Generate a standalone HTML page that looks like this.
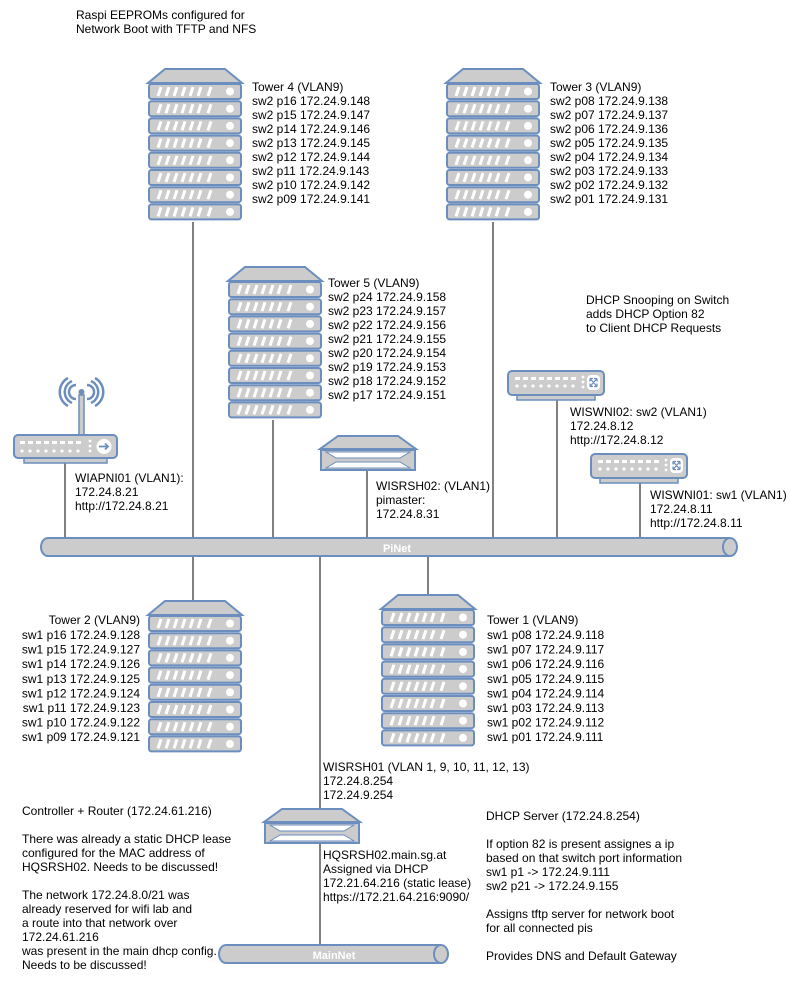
<!DOCTYPE html>
<html><head><meta charset="utf-8"><style>
html,body{margin:0;padding:0;background:#fff}
svg text{font-family:"Liberation Sans",Arial,sans-serif;font-size:12px;fill:#000}
</style></head><body>
<svg width="795" height="991" viewBox="0 0 795 991" xmlns="http://www.w3.org/2000/svg">
<defs>
<g id="unit">
<rect x="1" y="0" width="92" height="15" rx="2.5" fill="#cccccc" stroke="#6c8ebf" stroke-width="2"/>
<g stroke="#fff" stroke-width="3">
<line x1="10" y1="12" x2="13" y2="3"/><line x1="18" y1="12" x2="21" y2="3"/><line x1="26" y1="12" x2="29" y2="3"/><line x1="34" y1="12" x2="37" y2="3"/><line x1="42" y1="12" x2="45" y2="3"/><line x1="50" y1="12" x2="53" y2="3"/><line x1="60" y1="12" x2="63" y2="3"/>
</g>
<circle cx="82" cy="7.5" r="4" fill="#fff"/>
</g>
<g id="tower">
<path d="M17,1 L77,1 L94,15 L0,15 Z" fill="#cccccc" stroke="#6c8ebf" stroke-width="2"/>
<use href="#unit" y="16"/><use href="#unit" y="33.2"/><use href="#unit" y="50.4"/><use href="#unit" y="67.6"/>
<use href="#unit" y="84.8"/><use href="#unit" y="102"/><use href="#unit" y="119.2"/><use href="#unit" y="136.4"/>
</g>
<g id="switch">
<rect x="10" y="25" width="78" height="5" fill="#cccccc" stroke="#6c8ebf" stroke-width="1.5"/>
<rect x="1" y="1" width="96" height="24" rx="4" fill="#cccccc" stroke="#6c8ebf" stroke-width="2"/>
<g fill="#fff">
<rect x="8" y="7" width="5" height="3"/><rect x="16" y="7" width="5" height="3"/><rect x="24" y="7" width="5" height="3"/><rect x="32" y="7" width="5" height="3"/><rect x="40" y="7" width="5" height="3"/><rect x="48" y="7" width="5" height="3"/><rect x="56" y="7" width="5" height="3"/><rect x="64" y="7" width="5" height="3"/>
<circle cx="10" cy="16" r="1.6"/><circle cx="18" cy="16" r="1.6"/><circle cx="26" cy="16" r="1.6"/><circle cx="34" cy="16" r="1.6"/><circle cx="42" cy="16" r="1.6"/><circle cx="50" cy="16" r="1.6"/><circle cx="58" cy="16" r="1.6"/><circle cx="66" cy="16" r="1.6"/>
<circle cx="76" cy="7" r="1.4"/><circle cx="76" cy="12" r="1.4"/><circle cx="76" cy="17" r="1.4"/>
<rect x="80" y="5" width="13" height="15" rx="4"/>
</g>
<path d="M83,8.5 L90,16.5 M90,8.5 L83,16.5 M83,8.5 l0,3 M83,8.5 l3,0 M90,16.5 l0,-3 M90,16.5 l-3,0 M90,8.5 l-3,0 M90,8.5 l0,3 M83,16.5 l3,0 M83,16.5 l0,-3" stroke="#6c8ebf" stroke-width="1.2" fill="none"/>
</g>
<g id="server">
<path d="M18,1 L78,1 L96,14 L0,14 Z" fill="#cccccc" stroke="#6c8ebf" stroke-width="2"/>
<rect x="1" y="15" width="94" height="20" fill="#cccccc" stroke="#6c8ebf" stroke-width="2"/>
<path d="M6,17 L90,17 L80,23 L16,23 Z M16,27 L80,27 L90,33 L6,33 Z" fill="#fff" stroke="#6c8ebf" stroke-width="1"/>
</g>
</defs>

<g stroke="#000" stroke-width="1">
<line x1="193" y1="222" x2="193" y2="540"/>
<line x1="493" y1="222" x2="493" y2="540"/>
<line x1="273" y1="420" x2="273" y2="540"/>
<line x1="367" y1="470" x2="367" y2="540"/>
<line x1="65" y1="463" x2="65" y2="540"/>
<line x1="557" y1="400" x2="557" y2="540"/>
<line x1="640" y1="483" x2="640" y2="540"/>
<line x1="193" y1="555" x2="193" y2="600"/>
<line x1="428" y1="555" x2="428" y2="595"/>
<line x1="320" y1="555" x2="320" y2="808"/>
<line x1="320" y1="842" x2="320" y2="946"/>
</g>

<path d="M48,538 L730,538 A7,9 0 0 1 730,556 L48,556 A7,9 0 0 1 48,538 Z" fill="#cccccc" stroke="#6c8ebf" stroke-width="2"/>
<path d="M730,538 A7,9 0 0 0 730,556" fill="none" stroke="#6c8ebf" stroke-width="2"/>
<text x="397" y="552" text-anchor="middle" style="fill:#fff;font-size:11px;font-weight:bold">PiNet</text>
<path d="M226,945 L441,945 A7,9 0 0 1 441,963 L226,963 A7,9 0 0 1 226,945 Z" fill="#cccccc" stroke="#6c8ebf" stroke-width="2"/>
<path d="M441,945 A7,9 0 0 0 441,963" fill="none" stroke="#6c8ebf" stroke-width="2"/>
<text x="334" y="959" text-anchor="middle" style="fill:#fff;font-size:11px;font-weight:bold">MainNet</text>

<use href="#tower" x="148" y="68"/>
<use href="#tower" x="446" y="68"/>
<use href="#tower" x="228" y="266"/>
<use href="#tower" x="148" y="600"/>
<use href="#tower" x="381" y="594"/>

<use href="#switch" x="507" y="370"/>
<use href="#switch" x="590" y="453"/>
<use href="#server" x="320" y="435"/>
<use href="#server" x="264" y="808"/>

<g>
<rect x="79" y="395" width="5" height="42" fill="#cccccc" stroke="#6c8ebf" stroke-width="1.5"/>
<g fill="none" stroke="#6c8ebf" stroke-width="2.5">
<path d="M76,385 A7,7 0 0 0 76,399"/><path d="M87,385 A7,7 0 0 1 87,399"/>
<path d="M72,381 A12,12 0 0 0 72,403"/><path d="M91,381 A12,12 0 0 1 91,403"/>
<path d="M68,378 A16,16 0 0 0 68,406"/><path d="M95,378 A16,16 0 0 1 95,406"/>
</g>
<circle cx="81.5" cy="392" r="3" fill="#6c8ebf"/>
<rect x="24" y="458" width="83" height="5" fill="#cccccc" stroke="#6c8ebf" stroke-width="1.5"/>
<rect x="14" y="435" width="103" height="23" rx="4" fill="#cccccc" stroke="#6c8ebf" stroke-width="2"/>
<g fill="#fff">
<rect x="20" y="441" width="5" height="3"/><rect x="28" y="441" width="5" height="3"/><rect x="36" y="441" width="5" height="3"/><rect x="44" y="441" width="5" height="3"/><rect x="52" y="441" width="5" height="3"/><rect x="60" y="441" width="5" height="3"/><rect x="68" y="441" width="5" height="3"/><rect x="76" y="441" width="5" height="3"/>
<circle cx="22" cy="451" r="1.6"/><circle cx="30" cy="451" r="1.6"/><circle cx="38" cy="451" r="1.6"/><circle cx="46" cy="451" r="1.6"/><circle cx="54" cy="451" r="1.6"/><circle cx="62" cy="451" r="1.6"/><circle cx="70" cy="451" r="1.6"/><circle cx="78" cy="451" r="1.6"/>
<circle cx="90" cy="441" r="1.4"/><circle cx="90" cy="446" r="1.4"/><circle cx="90" cy="451" r="1.4"/>
<circle cx="104" cy="446.5" r="7.5"/>
</g>
<path d="M99,446.5 L108,446.5 M105,443.5 L108,446.5 L105,449.5" stroke="#6c8ebf" stroke-width="1.8" fill="none"/>
</g>

<text x="76" y="19">Raspi EEPROMs configured for</text>
<text x="76" y="33">Network Boot with TFTP and NFS</text>

<text x="252" y="91">Tower 4 (VLAN9)</text>
<text x="252" y="105">sw2 p16 172.24.9.148</text>
<text x="252" y="119">sw2 p15 172.24.9.147</text>
<text x="252" y="133">sw2 p14 172.24.9.146</text>
<text x="252" y="147">sw2 p13 172.24.9.145</text>
<text x="252" y="161">sw2 p12 172.24.9.144</text>
<text x="252" y="175">sw2 p11 172.24.9.143</text>
<text x="252" y="189">sw2 p10 172.24.9.142</text>
<text x="252" y="203">sw2 p09 172.24.9.141</text>

<text x="550" y="91">Tower 3 (VLAN9)</text>
<text x="550" y="105">sw2 p08 172.24.9.138</text>
<text x="550" y="119">sw2 p07 172.24.9.137</text>
<text x="550" y="133">sw2 p06 172.24.9.136</text>
<text x="550" y="147">sw2 p05 172.24.9.135</text>
<text x="550" y="161">sw2 p04 172.24.9.134</text>
<text x="550" y="175">sw2 p03 172.24.9.133</text>
<text x="550" y="189">sw2 p02 172.24.9.132</text>
<text x="550" y="203">sw2 p01 172.24.9.131</text>

<text x="328" y="287">Tower 5 (VLAN9)</text>
<text x="328" y="301">sw2 p24 172.24.9.158</text>
<text x="328" y="315">sw2 p23 172.24.9.157</text>
<text x="328" y="329">sw2 p22 172.24.9.156</text>
<text x="328" y="343">sw2 p21 172.24.9.155</text>
<text x="328" y="357">sw2 p20 172.24.9.154</text>
<text x="328" y="371">sw2 p19 172.24.9.153</text>
<text x="328" y="385">sw2 p18 172.24.9.152</text>
<text x="328" y="399">sw2 p17 172.24.9.151</text>

<text x="586" y="304">DHCP Snooping on Switch</text>
<text x="586" y="318">adds DHCP Option 82</text>
<text x="586" y="332">to Client DHCP Requests</text>

<text x="570" y="416">WISWNI02: sw2 (VLAN1)</text>
<text x="570" y="430">172.24.8.12</text>
<text x="570" y="444">http://172.24.8.12</text>

<text x="650" y="499">WISWNI01: sw1 (VLAN1)</text>
<text x="650" y="513">172.24.8.11</text>
<text x="650" y="527">http://172.24.8.11</text>

<text x="75" y="482">WIAPNI01 (VLAN1):</text>
<text x="75" y="496">172.24.8.21</text>
<text x="75" y="510">http://172.24.8.21</text>

<text x="376" y="490">WISRSH02: (VLAN1)</text>
<text x="376" y="504">pimaster:</text>
<text x="376" y="518">172.24.8.31</text>

<text x="140" y="624" text-anchor="end">Tower 2 (VLAN9)</text>
<text x="140" y="639" text-anchor="end">sw1 p16 172.24.9.128</text>
<text x="140" y="653.6" text-anchor="end">sw1 p15 172.24.9.127</text>
<text x="140" y="668.2" text-anchor="end">sw1 p14 172.24.9.126</text>
<text x="140" y="682.8" text-anchor="end">sw1 p13 172.24.9.125</text>
<text x="140" y="697.4" text-anchor="end">sw1 p12 172.24.9.124</text>
<text x="140" y="712" text-anchor="end">sw1 p11 172.24.9.123</text>
<text x="140" y="726.6" text-anchor="end">sw1 p10 172.24.9.122</text>
<text x="140" y="741" text-anchor="end">sw1 p09 172.24.9.121</text>

<text x="487" y="624">Tower 1 (VLAN9)</text>
<text x="487" y="639">sw1 p08 172.24.9.118</text>
<text x="487" y="653.6">sw1 p07 172.24.9.117</text>
<text x="487" y="668.2">sw1 p06 172.24.9.116</text>
<text x="487" y="682.8">sw1 p05 172.24.9.115</text>
<text x="487" y="697.4">sw1 p04 172.24.9.114</text>
<text x="487" y="712">sw1 p03 172.24.9.113</text>
<text x="487" y="726.6">sw1 p02 172.24.9.112</text>
<text x="487" y="741">sw1 p01 172.24.9.111</text>

<text x="323" y="771">WISRSH01 (VLAN 1, 9, 10, 11, 12, 13)</text>
<text x="323" y="785">172.24.8.254</text>
<text x="323" y="799">172.24.9.254</text>

<text x="323" y="859">HQSRSH02.main.sg.at</text>
<text x="323" y="873">Assigned via DHCP</text>
<text x="323" y="887">172.21.64.216 (static lease)</text>
<text x="323" y="901">https://172.21.64.216:9090/</text>

<text x="22" y="815">Controller + Router (172.24.61.216)</text>
<text x="22" y="843">There was already a static DHCP lease</text>
<text x="22" y="857">configured for the MAC address of</text>
<text x="22" y="871">HQSRSH02. Needs to be discussed!</text>
<text x="22" y="899">The network 172.24.8.0/21 was</text>
<text x="22" y="913">already reserved for wifi lab and</text>
<text x="22" y="927">a route into that network over</text>
<text x="22" y="941">172.24.61.216</text>
<text x="22" y="955">was present in the main dhcp config.</text>
<text x="22" y="969">Needs to be discussed!</text>

<text x="486" y="820">DHCP Server (172.24.8.254)</text>
<text x="486" y="848">If option 82 is present assignes a ip</text>
<text x="486" y="862">based on that switch port information</text>
<text x="486" y="876">sw1 p1 -&gt; 172.24.9.111</text>
<text x="486" y="890">sw2 p21 -&gt; 172.24.9.155</text>
<text x="486" y="918">Assigns tftp server for network boot</text>
<text x="486" y="932">for all connected pis</text>
<text x="486" y="960">Provides DNS and Default Gateway</text>
</svg>
</body></html>
